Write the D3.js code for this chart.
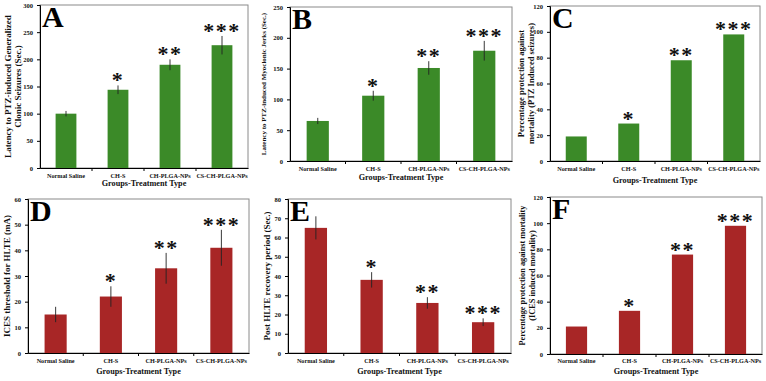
<!DOCTYPE html>
<html><head><meta charset="utf-8">
<script src="https://cdn.jsdelivr.net/npm/d3@7"></script>
<style>
body{margin:0;background:#fff;}
svg{display:block;}
text{font-family:"Liberation Serif","Times New Roman",serif;font-weight:bold;}
</style></head>
<body><svg id="c" width="766" height="381"></svg>
<script>
const categories = ["Normal Saline","CH-S","CH-PLGA-NPs","CS-CH-PLGA-NPs"];
const stars = ["","*","**","***"];
const xTitle = "Groups-Treatment Type";

const valuesA = [100,144,190,226];
const errorsA = [5,8,10,17];
const ticksA = [0,50,100,150,200,250,300];

const valuesB = [65,106,151,179];
const errorsB = [5,8,11,16];
const ticksB = [0,50,100,150,200,250];

const valuesC = [19,29,78,98];
const ticksC = [0,20,40,60,80,100,120];

const valuesD = [15,22,33,41];
const errorsD = [3,4,6,7];
const ticksD = [0,10,20,30,40,50,60];

const valuesE = [65,38,26,16];
const errorsE = [6,4,3,2];
const ticksE = [0,10,20,30,40,50,60,70,80];

const valuesF = [21,33,76,98];
const ticksF = [0,20,40,60,80,100,120];

const green = "#3b8a28", red = "#a82626";

const panels = [
 {letter:"A", values:valuesA, errors:errorsA, ticks:ticksA, color:green, box:[40,248,5,168],
  ylabel:["Latency to PTZ-induced Generalized","Clonic Seizures (Sec.)"], ylx:[9,19], ylfs:9, catY:178, titleY:186},
 {letter:"B", values:valuesB, errors:errorsB, ticks:ticksB, color:green, box:[290,512,7,161],
  ylabel:["Latency to PTZ-induced Myoclonic Jerks (Sec.)"], ylx:[264], ylfs:7, catY:171, titleY:180},
 {letter:"C", values:valuesC, errors:null, ticks:ticksC, color:green, box:[550,760,6,161],
  ylabel:["Percentage protection against","mortality (PTZ Induced seizures)"], ylx:[522,532], ylfs:8.5, catY:171, titleY:183},
 {letter:"D", values:valuesD, errors:errorsD, ticks:ticksD, color:red, box:[28,249,199,353],
  ylabel:["ICES threshold for HLTE (mA)"], ylx:[8], ylfs:9, catY:363, titleY:374},
 {letter:"E", values:valuesE, errors:errorsE, ticks:ticksE, color:red, box:[288,511,199,353],
  ylabel:["Post HLTE recovery period (Sec.)"], ylx:[268], ylfs:9, catY:363, titleY:374},
 {letter:"F", values:valuesF, errors:null, ticks:ticksF, color:red, box:[550,762,197,354],
  ylabel:["Percentage protection against mortality","(ICES induced mortality)"], ylx:[523,533], ylfs:8.3, catY:363, titleY:374}
];

const svg = d3.select("#c");

panels.forEach(p => {
  const [x0,x1,yt,yb] = p.box;
  const g = svg.append("g");
  const x = d3.scaleBand().domain(categories).range([x0,x1]).paddingInner(0.6).paddingOuter(0.3);
  const xb = d3.scaleBand().domain(categories).range([x0,x1]);
  const y = d3.scaleLinear().domain([0, d3.max(p.ticks)]).range([yb,yt]);

  // frame
  g.append("rect").attr("x",x0).attr("y",yt).attr("width",x1-x0).attr("height",yb-yt)
    .attr("fill","none").attr("stroke","#8a8a8a").attr("stroke-width",1);

  // bars
  g.selectAll("rect.bar").data(p.values).join("rect").attr("class","bar")
    .attr("x",(d,i)=>x(categories[i])).attr("width",x.bandwidth())
    .attr("y",d=>y(d)).attr("height",d=>yb-y(d)).attr("fill",p.color);

  // error bars
  if (p.errors) {
    g.selectAll("line.err").data(p.values).join("line").attr("class","err")
      .attr("x1",(d,i)=>x(categories[i])+x.bandwidth()/2).attr("x2",(d,i)=>x(categories[i])+x.bandwidth()/2)
      .attr("y1",(d,i)=>y(d-p.errors[i])).attr("y2",(d,i)=>y(d+p.errors[i]))
      .attr("stroke","#222").attr("stroke-width",0.9);
  }

  // stars
  g.selectAll("text.star").data(p.values).join("text").attr("class","star")
    .attr("x",(d,i)=>x(categories[i])+x.bandwidth()/2)
    .attr("y",(d,i)=>y(d+(p.errors?p.errors[i]:0)) + 2)
    .attr("text-anchor","middle").attr("font-size",22).attr("letter-spacing",1.5)
    .attr("fill","#111")
    .text((d,i)=>stars[i]);

  // y axis
  const ya = d3.axisLeft(y).tickValues(p.ticks).tickSize(3).tickPadding(4).tickFormat(d3.format("d"));
  const yg = g.append("g").attr("transform",`translate(${x0},0)`).call(ya);
  yg.select(".domain").attr("stroke","#000");
  yg.selectAll("text").attr("font-size",6.5).attr("fill","#111");

  // x axis
  const xa = d3.axisBottom(xb).tickSize(0).tickFormat("");
  const xg = g.append("g").attr("transform",`translate(0,${yb})`).call(xa);
  xg.select(".domain").attr("stroke","#000");
  xg.selectAll(".tick").remove();
  g.selectAll("line.sep").data(categories.slice(1)).join("line").attr("class","sep")
    .attr("x1",d=>xb(d)).attr("x2",d=>xb(d)).attr("y1",yb).attr("y2",yb+3)
    .attr("stroke","#000").attr("stroke-width",1);

  // category labels
  g.selectAll("text.cat").data(categories).join("text").attr("class","cat")
    .attr("x",d=>xb(d)+xb.bandwidth()/2).attr("y",p.catY)
    .attr("text-anchor","middle").attr("font-size",6.2).attr("fill","#111").text(d=>d);

  // x title
  g.append("text").attr("x",(x0+x1)/2).attr("y",p.titleY).attr("text-anchor","middle")
    .attr("font-size",8.2).attr("fill","#111").text(xTitle);

  // y label
  p.ylabel.forEach((t,k)=>{
    g.append("text").attr("transform",`translate(${p.ylx[k]},${(yt+yb)/2}) rotate(-90)`)
      .attr("text-anchor","middle").attr("dominant-baseline","middle")
      .attr("font-size",p.ylfs).attr("fill","#111").text(t);
  });

  // panel letter
  g.append("text").attr("x",x0+2).attr("y",yt+22).attr("font-size",30).attr("fill","#000").text(p.letter);
});
</script></body></html>
